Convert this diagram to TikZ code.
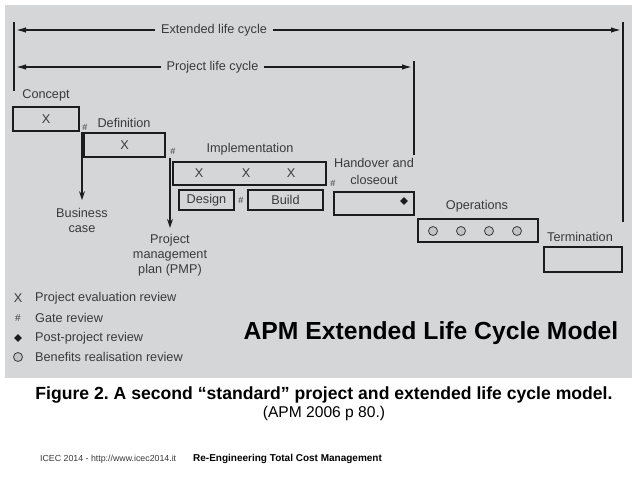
\documentclass[tikz,border=0pt]{standalone}
\usepackage{fontspec}
\setmainfont{Liberation Sans}
\frenchspacing
\usetikzlibrary{arrows.meta,shapes.geometric}
\definecolor{panelgray}{HTML}{D4D6D8}
\definecolor{inkgray}{HTML}{3A3A3A}
\definecolor{linegray}{HTML}{1C1C1C}
\definecolor{dotgray}{HTML}{C2C4C6}
\begin{document}
\begin{tikzpicture}[x=1pt, y=-1pt,
    labeltext/.style={text=inkgray, font=\fontsize{12.7}{15}\selectfont, inner sep=0pt, align=center},
    stage/.style={draw=linegray, line width=1.5pt, inner sep=0pt, text=inkgray, font=\fontsize{12.7}{15}\selectfont},
    gatemark/.style={text=inkgray, font=\fontsize{9}{9}\selectfont, inner sep=0pt},
    reviewdot/.style={circle, draw=inkgray, fill=dotgray, line width=0.8pt, minimum size=9pt, inner sep=0pt},
    postmark/.style={diamond, fill=linegray, minimum size=8pt, inner sep=0pt},
    flow/.style={draw=linegray, line width=1.5pt, -{Stealth[length=9pt,width=6pt]}},
    span/.style={draw=linegray, line width=1.4pt, -{Latex[length=10pt,width=5.5pt]}},
    bar/.style={draw=linegray, line width=2pt}]
    % Page and grey panel
    \useasboundingbox (0,0) rectangle (638,479);
    \fill[white] (0,0) rectangle (638,479);
    \fill[panelgray] (5,5) rectangle (632,378);

    % Life cycle spans
    \draw[bar] (14,22) -- (14,91);
    \draw[bar] (414,61) -- (414,155);
    \draw[bar] (623,22) -- (623,222);
    \coordinate (extL) at (16,30);
    \coordinate (extR) at (621,30);
    \coordinate (projL) at (16,67);
    \coordinate (projR) at (412,67);
    \node[labeltext, inner xsep=6pt] (ext) at (214,30) {Extended life cycle};
    \node[labeltext, inner xsep=5pt] (proj) at (212.5,67) {Project life cycle};
    \draw[span] (ext.west) -- (extL);
    \draw[span] (ext.east) -- (extR);
    \draw[span] (proj.west) -- (projL);
    \draw[span] (proj.east) -- (projR);

    % Phase boxes
    \node[stage, minimum width=66, minimum height=24] (concept) at (46,119) {X};
    \node[stage, minimum width=81, minimum height=24] (definition) at (124.5,145) {X};
    \node[stage, minimum width=153, minimum height=23] (implementation) at (249.5,173.5) {};
    \node[stage, minimum width=55, minimum height=20] (design) at (206.5,200) {Design};
    \node[stage, minimum width=75, minimum height=20] (build) at (285.5,200) {Build};
    \node[stage, minimum width=80, minimum height=23] (handover) at (374,203.5) {};
    \node[stage, minimum width=120, minimum height=23] (operations) at (478,230.5) {};
    \node[stage, minimum width=78, minimum height=25] (termination) at (583,259.5) {};

    % Phase names
    \node[labeltext] (conceptname) at (46,95) {Concept};
    \node[labeltext] (definitionname) at (124,123) {Definition};
    \node[labeltext] (implementationname) at (250,149) {Implementation};
    \node[labeltext, font=\fontsize{12.7}{17}\selectfont] (handovername) at (374,171.5) {Handover and\\closeout};
    \node[labeltext] (operationsname) at (477,206) {Operations};
    \node[labeltext] (terminationname) at (580,237) {Termination};

    % Reviews inside the boxes
    \node[labeltext] (implx1) at (199,173.5) {X};
    \node[labeltext] (implx2) at (246,173.5) {X};
    \node[labeltext] (implx3) at (291,173.5) {X};
    \node[postmark] (handpost) at (404,201) {};
    \node[reviewdot] (ops1) at (433,231) {};
    \node[reviewdot] (ops2) at (461,231) {};
    \node[reviewdot] (ops3) at (489,231) {};
    \node[reviewdot] (ops4) at (517,231) {};

    % Gate reviews
    \node[gatemark] (gate1) at (85,127) {\#};
    \node[gatemark] (gate2) at (173,151) {\#};
    \node[gatemark] (gate3) at (241,200) {\#};
    \node[gatemark] (gate4) at (333,183) {\#};

    % Outputs
    \node[labeltext] (business) at (82,220.5) {Business\\case};
    \node[labeltext] (pmp) at (170,255) {Project\\management\\plan (PMP)};
    \draw[flow, shorten >=8pt] (concept.south east -| business.north) -- (business.north);
    \draw[flow, shorten >=6pt] (definition.south east -| pmp.north) -- (pmp.north);

    % Key
    \node[labeltext] (keyx) at (18,298) {X};
    \node[gatemark, font=\fontsize{10}{10}\selectfont] (keygate) at (18,318) {\#};
    \node[postmark] (keypost) at (18,338) {};
    \node[reviewdot] (keydot) at (18,357) {};
    \node[labeltext, anchor=west] at (35,298) {Project evaluation review};
    \node[labeltext, anchor=west] at (35,318) {Gate review};
    \node[labeltext, anchor=west] at (35,338) {Post-project review};
    \node[labeltext, anchor=west] at (35,357) {Benefits realisation review};

    % Title and caption
    \node[font=\fontsize{24.7}{26}\selectfont\bfseries, inner sep=0pt] (title) at (431,333) {APM Extended Life Cycle Model};
    \node[font=\fontsize{17.6}{19}\selectfont\bfseries, inner sep=0pt] (caption) at (324,395) {Figure 2. A second “standard” project and extended life cycle model.};
    \node[font=\fontsize{15.6}{17}\selectfont, inner sep=0pt] (source) at (324,413) {(APM 2006 p 80.)};
    \node[font=\fontsize{8.8}{10}\selectfont, text=inkgray, anchor=west, inner sep=0pt] (footleft) at (40,459) {ICEC 2014 - http://www.icec2014.it};
    \node[font=\fontsize{10}{11}\selectfont\bfseries, anchor=west, inner sep=0pt] (footright) at (193,459) {Re-Engineering Total Cost Management};
\end{tikzpicture}
\end{document}
